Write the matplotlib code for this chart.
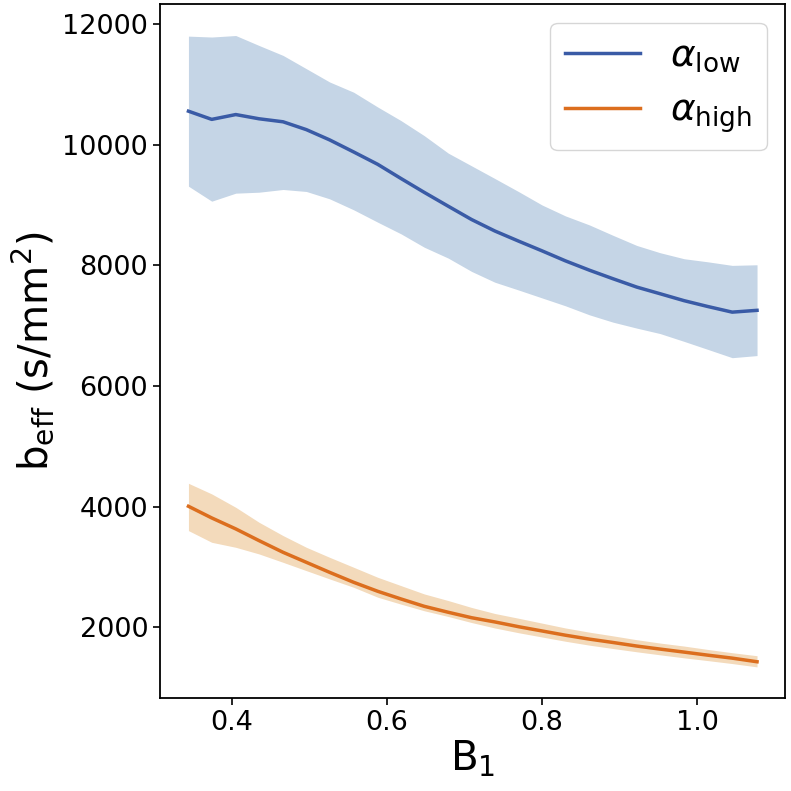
import numpy as np
import matplotlib
matplotlib.use('Agg')
import matplotlib.pyplot as plt

b1 = [0.344, 0.374, 0.405, 0.435, 0.466, 0.496, 0.526, 0.557, 0.588, 0.618,
      0.648, 0.679, 0.709, 0.739, 0.770, 0.800, 0.830, 0.861, 0.891, 0.922,
      0.952, 0.983, 1.013, 1.045, 1.077]

low_mean = [10556, 10420, 10500, 10430, 10380, 10250, 10080, 9880, 9675, 9440,
            9210, 8980, 8760, 8570, 8400, 8240, 8075, 7920, 7780, 7640,
            7530, 7415, 7320, 7225, 7255]
low_upper = [11800, 11785, 11810, 11645, 11480, 11260, 11040, 10870, 10625, 10400,
             10150, 9860, 9650, 9440, 9220, 9000, 8820, 8670, 8500, 8330,
             8210, 8110, 8060, 8000, 8010]
low_lower = [9313, 9064, 9197, 9213, 9258, 9225, 9103, 8921, 8716, 8523,
             8301, 8120, 7900, 7721, 7590, 7460, 7330, 7180, 7060, 6960,
             6870, 6740, 6610, 6470, 6505]

high_mean = [4007, 3814, 3632, 3438, 3244, 3078, 2912, 2747, 2598, 2471,
             2349, 2250, 2160, 2090, 2010, 1940, 1870, 1805, 1750, 1690,
             1640, 1590, 1540, 1490, 1430]
high_upper = [4388, 4212, 3990, 3742, 3521, 3327, 3161, 2996, 2830, 2692,
              2554, 2444, 2330, 2230, 2150, 2070, 1990, 1920, 1860, 1795,
              1740, 1690, 1635, 1580, 1530]
high_lower = [3604, 3410, 3327, 3217, 3078, 2940, 2803, 2664, 2500, 2385,
              2275, 2180, 2080, 1990, 1910, 1840, 1770, 1705, 1650, 1595,
              1545, 1495, 1450, 1400, 1345]

fig = plt.figure(figsize=(7.91, 7.91), dpi=100)
ax = fig.add_axes([0.2023, 0.117, 0.7907, 0.878])

ax.fill_between(b1, low_lower, low_upper, color='#c5d5e6', linewidth=0)
ax.fill_between(b1, high_lower, high_upper, color='#f3dabb', linewidth=0)
ax.plot(b1, low_mean, color='#3a5ba6', lw=2.5, label=r'$\alpha_{\rm low}$')
ax.plot(b1, high_mean, color='#dc6e1e', lw=2.5, label=r'$\alpha_{\rm high}$')

ax.set_xticks([0.4, 0.6, 0.8, 1.0])
ax.set_yticks([2000, 4000, 6000, 8000, 10000, 12000])
ax.tick_params(labelsize=19.5, width=1.2, length=5)
for s in ax.spines.values():
    s.set_linewidth(1.3)

ax.set_xlabel(r'$\mathrm{B_1}$', fontsize=29, labelpad=2)
ax.set_ylabel(r'$\mathrm{b_{eff}}$ (s/mm$^2$)', fontsize=29)
ax.legend(loc='upper right', fontsize=27, handlelength=2.0)

fig.savefig('out.png', dpi=100)
